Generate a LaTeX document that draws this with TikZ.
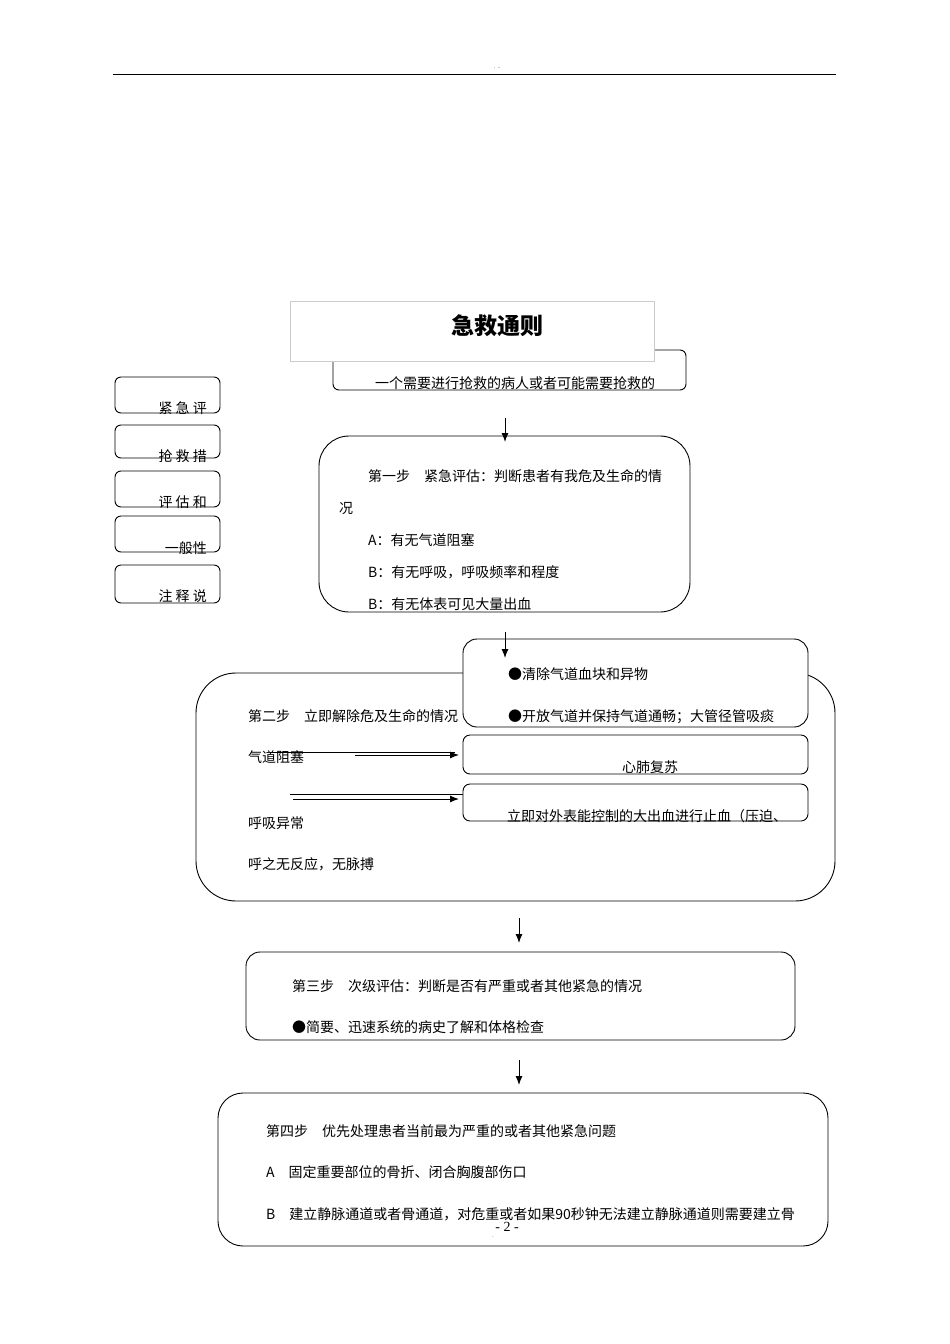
\documentclass[tikz,border=0pt]{standalone}
\usepackage{fontspec}
\usetikzlibrary{arrows.meta}
\setmainfont{Liberation Serif}
\newfontfamily\cjk{Noto Sans CJK SC}
\begin{document}
\begin{tikzpicture}[x=1pt,y=-1pt,
  txt/.style={anchor=base west,inner sep=0pt,font=\cjk\fontsize{14}{14}\selectfont},
  ctxt/.style={anchor=base,inner sep=0pt,font=\cjk\fontsize{14}{14}\selectfont},
  rbox/.style={draw,line width=0.9pt},
  arr/.style={-{Latex[length=9pt,width=7pt]},line width=1pt}]
\useasboundingbox (0,0) rectangle (950,1344);
\draw[line width=0.8pt] (113,74) -- (836,74);
\node[inner sep=0pt,font=\tiny] (hd) at (497,68) {.\ \ ..};
% title
\draw[rbox,rounded corners=6pt] (333,350) rectangle (686,390);
\draw[draw=black!20,fill=white] (290,301) rectangle (654,361);
\node[inner sep=0pt,font=\cjk\bfseries\fontsize{23}{23}\selectfont] (title) at (497,326) {急救通则};
\node[txt] (t0) at (375,388) {一个需要进行抢救的病人或者可能需要抢救的};
% left boxes
\foreach \a/\b/\t/\y in {377/413/紧\ 急\ 评/413, 425/458/抢\ 救\ 措/461, 471/507/评\ 估\ 和/507, 516/552/一般性/553, 565/603/注\ 释\ 说/601}{
  \draw[rbox,rounded corners=6pt] (115,\a) rectangle (220,\b);
  \node[anchor=base east,inner sep=0pt,font=\cjk\fontsize{14}{14}\selectfont] at (207,\y) {\t};
}
\coordinate (a1s) at (505,418); \coordinate (a1e) at (505,442);
\draw[arr] (a1s) -- (a1e);
% step 1
\draw[rbox,rounded corners=30pt] (319,436) rectangle (690,612);
\node[txt] at (368,481) {第一步\quad 紧急评估：判断患者有我危及生命的情};
\node[txt] at (339,513) {况};
\node[txt] at (368,545) {A：有无气道阻塞};
\node[txt] at (368,577) {B：有无呼吸，呼吸频率和程度};
\node[txt] at (368,609) {B：有无体表可见大量出血};
% step 2
\draw[rbox,rounded corners=40pt] (196,673) rectangle (835,901);
\node[txt] at (248,721) {第二步\quad 立即解除危及生命的情况};
\node[txt] at (248,762) {气道阻塞};
\node[txt] at (248,828) {呼吸异常};
\node[txt] at (248,869) {呼之无反应，无脉搏};
\draw[rbox,fill=white,rounded corners=14pt] (463,639) rectangle (808,727);
\node[txt] at (508,679) {●清除气道血块和异物};
\node[txt] at (508,721) {●开放气道并保持气道通畅；大管径管吸痰};
\draw[rbox,fill=white,rounded corners=7pt] (463,735) rectangle (808,774);
\node[ctxt] at (650,772) {心肺复苏};
\draw[rbox,fill=white,rounded corners=7pt] (463,784) rectangle (808,821);
\node[txt] at (507,821) {立即对外表能控制的大出血进行止血（压迫、};
\draw[line width=1pt] (270,752) -- (455,752);
\draw[arr] (355,755) -- (459,755);
\draw[line width=1pt] (290,794) -- (463,794);
\draw[arr] (293,799) -- (459,799);
\coordinate (a2s) at (505,632); \coordinate (a2e) at (505,658);
\draw[arr] (a2s) -- (a2e);
% step 3
\coordinate (a3s) at (519,918); \coordinate (a3e) at (519,943);
\draw[arr] (a3s) -- (a3e);
\draw[rbox,rounded corners=14pt] (246,952) rectangle (795,1040);
\node[txt] at (292,991) {第三步\quad 次级评估：判断是否有严重或者其他紧急的情况};
\node[txt] at (292,1032) {●简要、迅速系统的病史了解和体格检查};
% step 4
\coordinate (a4s) at (519,1060); \coordinate (a4e) at (519,1085);
\draw[arr] (a4s) -- (a4e);
\draw[rbox,rounded corners=25pt] (218,1093) rectangle (828,1246);
\node[txt] at (266,1136) {第四步\quad 优先处理患者当前最为严重的或者其他紧急问题};
\node[txt] at (266,1177) {A\quad 固定重要部位的骨折、闭合胸腹部伤口};
\node[txt] at (266,1219) {B\quad 建立静脉通道或者骨通道，对危重或者如果90秒钟无法建立静脉通道则需要建立骨};
\node[inner sep=0pt,font=\fontsize{14}{14}\selectfont,fill=white] (pg) at (507,1227) {- 2 -};
\node[inner sep=0pt,font=\tiny] (dot) at (493,1237) {.};
\end{tikzpicture}
\end{document}
